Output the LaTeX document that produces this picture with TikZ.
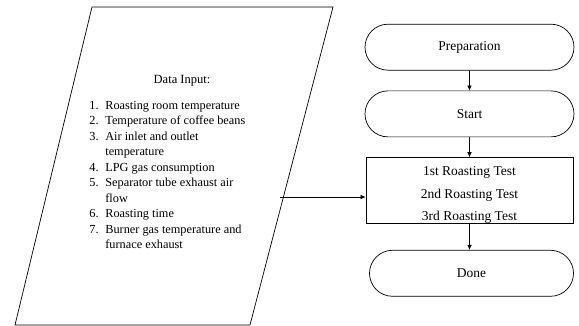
\documentclass[tikz,border=0pt]{standalone}
\usepackage{fontspec}
\setmainfont{Liberation Serif}
\usepackage{tikz}
\usetikzlibrary{arrows.meta,positioning,shapes.misc}

\begin{document}
\begin{tikzpicture}[x=1pt,y=1pt,font=\fontsize{13.5}{16}\selectfont,
    line width=0.7pt,
    term/.style={draw,rounded rectangle,minimum width=209pt,minimum height=46pt,inner sep=0pt},
    testbox/.style={draw,rectangle,minimum width=207pt,minimum height=66pt,inner sep=0pt,
                    align=center,font=\fontsize{13.5}{22.5}\selectfont},
    flow/.style={-{Latex[length=5pt,width=4.5pt]},line width=0.6pt}]
  \useasboundingbox (0,0) rectangle (579,326);
  % input parallelogram
  \draw (92,319) -- (333,319) -- (250,1) -- (15,1) -- cycle;
  \coordinate (inR) at (280,129);
  \node (head) at (182,245) {\fontsize{12.5}{15.5}\selectfont Data Input:};
  \node[anchor=west,inner sep=0pt,align=left,font=\fontsize{12.3}{15.5}\selectfont] (list) at (89,151) {%
    \makebox[16pt][l]{1.}Roasting room temperature\\
    \makebox[16pt][l]{2.}Temperature of coffee beans\\
    \makebox[16pt][l]{3.}Air inlet and outlet\\
    \hspace*{16pt}temperature\\
    \makebox[16pt][l]{4.}LPG gas consumption\\
    \makebox[16pt][l]{5.}Separator tube exhaust air\\
    \hspace*{16pt}flow\\
    \makebox[16pt][l]{6.}Roasting time\\
    \makebox[16pt][l]{7.}Burner gas temperature and\\
    \hspace*{16pt}furnace exhaust};
  % process column
  \node[term] (prep) at (469.5,278.8) {Preparation};
  \node[term,below=20pt of prep] (start) {Start};
  \node[testbox,below=20pt of start] (tests) {\rule{0pt}{18pt}1st Roasting Test\\2nd Roasting Test\\3rd Roasting Test};
  \node[term,below=26pt of tests,minimum width=204pt,xshift=2pt] (done) {Done};
  \draw[flow] (prep) -- (start);
  \draw[flow] (start) -- (tests);
  \draw[flow] (tests.south -| start) -- (done.north -| start);
  \draw[flow] (inR) -- (inR -| tests.west);
\end{tikzpicture}
\end{document}
